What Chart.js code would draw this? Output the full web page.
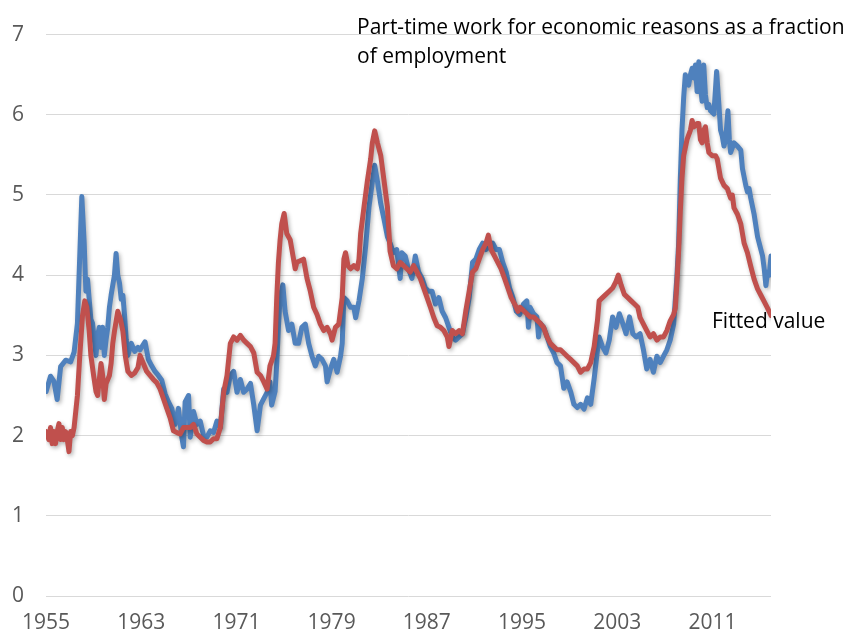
<!DOCTYPE html>
<html><head><meta charset="utf-8">
<script src="https://cdn.jsdelivr.net/npm/chart.js@4/dist/chart.umd.min.js"></script>
<style>html,body{margin:0;padding:0;background:#fff;}#wrap{position:relative;width:848px;height:638px;}</style>
</head><body><div id="wrap"><canvas id="c" width="848" height="638"></canvas></div>
<script>
const xTickYears = [1955,1963,1971,1979,1987,1995,2003,2011];
const seriesNames = ['Part-time work for economic reasons as a fraction of employment','Fitted value'];

const actualYears = [
1955.01,1955.38,1955.66,1955.94,1956.23,1956.65,1957.07,1957.36,1957.64,1957.92,1958.01,1958.21,1958.35,1958.49,1958.63,1958.77,1958.91,1959.06,1959.20,1959.34,1959.48,1959.62,1959.76,1959.90,1960.05,1960.19,1960.33,1960.47,1960.75,1960.89,1961.03,1961.18,1961.32,1961.46,1961.60,1961.74,1961.88,1962.17,1962.45,1962.73,
1962.90,1963.32,1963.60,1963.88,1964.16,1964.44,1964.73,1965.01,1965.29,1965.57,1965.85,1966.13,1966.41,1966.55,1966.69,1966.98,1967.12,1967.40,1967.68,1967.96,1968.24,1968.52,1968.80,1969.08,1969.36,1969.65,1969.93,1970.21,1970.49,1970.77,1971.05,1971.33,1971.61,1971.89,1972.18,1972.46,1972.74,1973.02,1973.30,1973.58,
1973.82,1973.96,1974.25,1974.39,1974.53,1974.67,1974.90,1975.09,1975.38,1975.66,1975.94,1976.22,1976.50,1976.79,1977.07,1977.35,1977.63,1977.91,1978.19,1978.48,1978.62,1978.90,1979.18,1979.46,1979.75,1979.89,1980.03,1980.31,1980.59,1980.87,1981.02,1981.30,1981.58,1981.86,1982.14,1982.43,1982.62,1982.85,1983.13,1983.41,1983.69,
1983.91,1984.19,1984.47,1984.76,1984.90,1985.18,1985.46,1985.75,1986.03,1986.31,1986.60,1986.88,1987.16,1987.44,1987.73,1988.01,1988.29,1988.58,1988.86,1989.14,1989.42,1989.71,1989.99,1990.27,1990.56,1990.84,1991.12,1991.40,1991.69,1991.97,1992.25,1992.54,1992.82,1993.10,1993.38,1993.67,1993.95,1994.23,1994.52,1994.80,
1995.12,1995.40,1995.54,1995.68,1995.96,1996.25,1996.39,1996.53,1996.81,1997.10,1997.38,1997.66,1997.94,1998.23,1998.51,1998.79,1999.08,1999.36,1999.64,1999.92,2000.21,2000.49,2000.77,2001.06,2001.28,2001.48,2001.76,2002.05,2002.33,2002.61,2002.89,2003.18,2003.46,2003.74,2004.03,2004.31,2004.59,
2004.92,2005.20,2005.48,2005.76,2006.04,2006.33,2006.61,2006.89,2007.17,2007.45,2007.74,2008.02,2008.16,2008.30,2008.44,2008.58,2008.72,2008.86,2009.00,2009.15,2009.29,2009.43,2009.57,2009.71,2009.85,2009.99,2010.13,2010.27,2010.41,2010.56,2010.70,2010.84,2011.12,2011.35,2011.54,2011.68,2011.83,2011.97,2012.11,2012.30,2012.42,2012.53,2012.81,2013.10,2013.38,2013.52,2013.80,2013.94,2014.08,2014.22,2014.50,2014.79,2015.07,2015.21,2015.35,2015.49,2015.63,2015.77,2015.92
];
const actualValues = [
2.55,2.74,2.68,2.45,2.86,2.94,2.92,3.04,3.4,4.6,4.98,4.4,3.8,3.95,3.7,3.45,3.4,3.2,3.0,3.25,3.35,3.1,3.35,3.0,3.2,3.35,3.6,3.75,4.0,4.27,4.0,3.9,3.7,3.75,3.5,3.2,3.0,3.15,3.05,3.1,
3.07,3.17,2.95,2.87,2.8,2.75,2.69,2.52,2.42,2.34,2.14,2.34,1.98,1.86,2.42,2.5,1.98,2.3,2.14,2.18,2.0,1.98,2.06,2.04,2.18,2.1,2.58,2.54,2.75,2.8,2.54,2.7,2.54,2.58,2.65,2.38,2.06,2.38,2.46,2.54,
2.67,2.38,2.55,2.9,3.35,3.72,3.88,3.55,3.31,3.39,3.15,3.15,3.35,3.39,3.15,2.99,2.87,2.99,2.95,2.87,2.67,2.83,2.95,2.79,2.99,3.15,3.72,3.68,3.6,3.6,3.47,3.68,3.96,4.36,4.85,5.17,5.37,5.17,4.89,4.69,4.48,
4.4,4.28,4.32,3.96,4.28,4.24,4.08,3.96,4.24,4.04,3.96,3.84,3.8,3.8,3.64,3.72,3.55,3.47,3.35,3.23,3.19,3.23,3.27,3.47,3.72,4.16,4.2,4.32,4.4,4.32,4.36,4.4,4.32,4.32,4.16,4.04,3.84,3.72,3.55,3.51,
3.64,3.68,3.35,3.6,3.52,3.48,3.23,3.4,3.35,3.23,3.11,3.03,2.91,2.87,2.59,2.67,2.55,2.39,2.35,2.39,2.33,2.47,2.39,2.71,2.99,3.23,3.11,3.03,3.19,3.48,3.35,3.52,3.4,3.27,3.48,3.27,3.23,
3.27,3.07,2.83,2.95,2.79,2.99,2.91,2.99,3.07,3.19,3.39,4.0,4.4,5.2,5.81,6.21,6.5,6.42,6.37,6.5,6.58,6.46,6.62,6.29,6.66,6.37,6.17,6.62,6.25,6.09,6.13,6.05,6.01,6.54,6.13,5.81,5.73,5.61,5.69,6.05,5.69,5.53,5.65,5.61,5.56,5.33,5.12,5.04,5.08,4.96,4.76,4.48,4.32,4.24,4.08,3.87,4.04,4.0,4.24
];

const fittedYears = [
1955.01,1955.24,1955.38,1955.52,1955.66,1955.80,1955.94,1956.09,1956.23,1956.37,1956.51,1956.65,1956.79,1956.93,1957.07,1957.22,1957.36,1957.50,1957.64,1957.84,1958.07,1958.26,1958.43,1958.63,1958.77,1959.00,1959.20,1959.34,1959.48,1959.62,1959.76,1959.90,1960.05,1960.19,1960.33,1960.47,1960.61,1960.75,1961.03,1961.26,1961.46,1961.66,1961.88,1962.17,1962.45,1962.73,
1962.90,1963.18,1963.46,1963.74,1964.02,1964.30,1964.59,1964.87,1965.15,1965.43,1965.71,1965.99,1966.27,1966.55,1966.83,1967.12,1967.40,1967.68,1967.96,1968.24,1968.52,1968.80,1969.08,1969.36,1969.65,1969.93,1970.21,1970.49,1970.77,1971.05,1971.33,1971.61,1971.89,1972.18,1972.46,1972.74,1973.02,1973.30,1973.58,
1973.82,1974.11,1974.25,1974.39,1974.53,1974.67,1974.81,1975.01,1975.23,1975.52,1975.80,1975.94,1976.08,1976.36,1976.64,1976.93,1977.21,1977.49,1977.77,1978.05,1978.34,1978.62,1978.90,1979.04,1979.32,1979.60,1979.89,1980.03,1980.17,1980.37,1980.59,1980.87,1981.16,1981.30,1981.44,1981.72,1982.00,1982.28,1982.42,1982.62,1982.85,1983.13,1983.41,1983.69,
1983.91,1984.19,1984.47,1984.76,1985.04,1985.32,1985.60,1985.89,1986.17,1986.45,1986.74,1987.02,1987.30,1987.59,1987.87,1988.15,1988.43,1988.72,1988.86,1989.14,1989.42,1989.71,1989.99,1990.27,1990.56,1990.84,1991.12,1991.40,1991.69,1991.97,1992.17,1992.40,1992.68,1992.96,1993.24,1993.53,1993.81,1994.09,1994.38,1994.66,
1994.83,1995.12,1995.40,1995.68,1995.96,1996.25,1996.53,1996.81,1997.10,1997.38,1997.66,1997.94,1998.23,1998.51,1998.79,1999.08,1999.36,1999.64,1999.92,2000.21,2000.49,2000.77,2001.06,2001.34,2001.48,2001.76,2002.05,2002.33,2002.61,2002.89,2003.09,2003.32,2003.60,2003.89,2004.17,2004.45,2004.73,
2004.92,2005.20,2005.48,2005.76,2006.04,2006.33,2006.61,2006.89,2007.17,2007.45,2007.74,2007.88,2008.02,2008.16,2008.30,2008.44,2008.58,2008.86,2009.15,2009.29,2009.43,2009.71,2009.85,2009.99,2010.13,2010.27,2010.41,2010.56,2010.70,2010.98,2011.26,2011.40,2011.68,2011.97,2012.25,2012.53,2012.67,2012.81,2013.10,2013.38,2013.66,2013.94,2014.22,2014.50,2014.79,2015.07,2015.35,2015.63,2015.92
];
const fittedValues = [
2.05,1.95,2.1,1.9,2.05,1.9,2.05,2.15,1.95,2.1,1.95,2.05,1.95,1.8,2.05,2.0,2.1,2.3,2.5,3.0,3.5,3.68,3.6,3.3,3.0,2.75,2.55,2.5,2.7,2.9,2.75,2.45,2.65,2.7,2.75,2.9,3.15,3.3,3.55,3.45,3.3,3.0,2.8,2.75,2.78,2.85,
3.0,2.9,2.8,2.75,2.7,2.66,2.58,2.46,2.34,2.22,2.06,2.04,2.02,2.1,2.1,2.1,2.14,2.02,1.98,1.94,1.92,1.92,1.96,1.96,2.1,2.54,2.75,3.15,3.23,3.19,3.25,3.19,3.15,3.11,3.03,2.79,2.75,2.67,2.58,
2.87,2.99,3.15,3.72,4.16,4.44,4.64,4.77,4.52,4.44,4.2,4.08,4.16,4.18,4.2,3.96,3.8,3.6,3.51,3.39,3.31,3.35,3.27,3.19,3.35,3.39,3.72,4.2,4.28,4.12,4.08,4.12,4.08,4.2,4.52,4.85,5.17,5.45,5.65,5.8,5.65,5.49,5.17,4.85,
4.3,4.12,4.08,4.16,4.12,4.08,4.04,4.12,4.04,3.96,3.84,3.72,3.6,3.47,3.37,3.35,3.31,3.23,3.11,3.31,3.27,3.31,3.27,3.55,3.8,4.04,4.08,4.2,4.32,4.4,4.5,4.32,4.24,4.16,4.08,3.96,3.84,3.72,3.64,3.55,
3.6,3.56,3.52,3.48,3.48,3.44,3.4,3.35,3.23,3.15,3.11,3.07,3.07,3.03,2.99,2.95,2.91,2.87,2.79,2.83,2.83,2.91,3.11,3.44,3.68,3.72,3.76,3.8,3.84,3.92,4.0,3.88,3.76,3.72,3.68,3.64,3.6,
3.47,3.39,3.31,3.23,3.27,3.19,3.23,3.23,3.31,3.43,3.51,3.59,3.92,4.31,4.8,5.21,5.49,5.69,5.81,5.93,5.85,5.89,5.89,5.69,5.65,5.81,5.85,5.65,5.53,5.49,5.49,5.45,5.21,5.12,5.08,4.96,5.0,4.84,4.76,4.64,4.4,4.28,4.11,3.95,3.83,3.75,3.67,3.59,3.5
];

const FONT = "'Open Sans', 'DejaVu Sans', sans-serif";

const shadowPlugin = {
  id: 'lineShadow',
  beforeDatasetsDraw(chart) {
    const c = chart.ctx;
    c.save();
    c.shadowColor = 'rgba(0,0,0,0.30)';
    c.shadowBlur = 4;
    c.shadowOffsetX = 1.5;
    c.shadowOffsetY = 2;
  },
  afterDatasetsDraw(chart) { chart.ctx.restore(); }
};

const notesPlugin = {
  id: 'notes',
  afterDraw(chart) {
    const c = chart.ctx;
    c.save();
    c.fillStyle = '#000000';
    c.textBaseline = 'middle';
    c.textAlign = 'left';
    c.font = "21px " + FONT;
    c.fillText('Part-time work for economic reasons as a fraction', 357, 28);
    c.fillText('of employment', 357, 57);
    c.fillText('Fitted value', 712, 322);
    c.restore();
  }
};

new Chart(document.getElementById('c'), {
  type: 'line',
  data: {
    datasets: [
      {
        label: seriesNames[1],
        data: fittedYears.map((x, i) => ({ x: x, y: fittedValues[i] })),
        borderColor: '#C0504D',
        backgroundColor: '#C0504D',
        borderWidth: 5,
        pointRadius: 0,
        tension: 0,
        borderJoinStyle: 'round',
        borderCapStyle: 'round',
        order: 0
      },
      {
        label: seriesNames[0],
        data: actualYears.map((x, i) => ({ x: x, y: actualValues[i] })),
        borderColor: '#4F81BD',
        backgroundColor: '#4F81BD',
        borderWidth: 5,
        pointRadius: 0,
        tension: 0,
        borderJoinStyle: 'round',
        borderCapStyle: 'round',
        order: 1
      }
    ]
  },
  options: {
    responsive: false,
    animation: false,
    layout: { padding: { top: 15, right: 77, left: 0, bottom: 0 } },
    plugins: { legend: { display: false }, tooltip: { enabled: false } },
    scales: {
      x: {
        type: 'linear',
        min: 1955,
        max: 2015.92,
        grid: { display: false, drawTicks: false },
        border: { display: false },
        afterBuildTicks(s) { s.ticks = xTickYears.map(v => ({ value: v })); },
        afterFit(s) { s.height = 42; },
        ticks: {
          color: '#595959',
          font: { family: FONT, size: 21 },
          padding: 14,
          maxRotation: 0,
          autoSkip: false,
          callback: v => String(v)
        }
      },
      y: {
        min: 0,
        max: 7,
        grid: { color: '#d9d9d9', lineWidth: 1, drawTicks: false },
        border: { display: false },
        afterFit(s) { s.width = 46; },
        ticks: {
          stepSize: 1,
          color: '#595959',
          font: { family: FONT, size: 21 },
          padding: 22
        }
      }
    }
  },
  plugins: [shadowPlugin, notesPlugin]
});
</script>
</body></html>
